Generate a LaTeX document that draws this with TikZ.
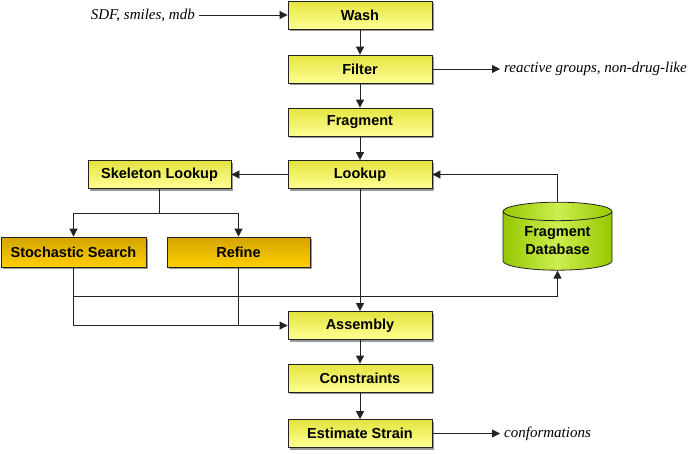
\documentclass[tikz,border=0pt]{standalone}
\usepackage{fontspec}
\setmainfont{Liberation Sans}
\newfontfamily\notefont{Liberation Serif}
\usetikzlibrary{arrows.meta,shapes.geometric,shadows}
\definecolor{boxlight}{RGB}{255,255,150}
\definecolor{boxdark}{RGB}{228,228,64}
\definecolor{goldlight}{RGB}{255,206,0}
\definecolor{golddark}{RGB}{212,164,0}
\definecolor{dbedge}{RGB}{150,200,0}
\definecolor{dbmid}{RGB}{205,238,80}
\definecolor{linec}{RGB}{35,35,35}
\tikzset{
  box/.style={draw=linec, line width=0.8pt, top color=boxdark, bottom color=boxlight,
    minimum width=144pt, minimum height=28pt, inner sep=0pt,
    font=\fontsize{14.5}{16}\selectfont\bfseries,
    drop shadow={shadow xshift=2pt, shadow yshift=-2pt, fill=black!40, opacity=1}},
  goldbox/.style={box, top color=golddark, bottom color=goldlight, minimum height=30pt},
  dbase/.style={cylinder, shape border rotate=90, aspect=0.28, draw=linec, line width=0.8pt,
    left color=dbedge, right color=dbedge, middle color=dbmid,
    minimum width=109pt, minimum height=68pt, inner sep=0pt, align=center,
    font=\fontsize{14.5}{18}\selectfont\bfseries},
  note/.style={font=\fontsize{15}{17}\selectfont\notefont\itshape, inner sep=4pt},
  arr/.style={-{Triangle[width=8pt,length=8pt]}, draw=linec, line width=0.8pt},
  conn/.style={draw=linec, line width=0.8pt}
}
\begin{document}
\begin{tikzpicture}[x=1pt,y=-1pt]
  \useasboundingbox (0,0) rectangle (700,453);
  % main column
  \node[box] (wash)     at (360,15)    {Wash};
  \node[box] (filter)   at (360,69)    {Filter};
  \node[box] (fragment) at (360,122)   {Fragment};
  \node[box] (lookup)   at (360,174.5) {Lookup};
  \node[box] (assembly) at (360,325.5) {Assembly};
  \node[box] (constr)   at (360,378)   {Constraints};
  \node[box] (strain)   at (360,433.5) {Estimate Strain};
  % side boxes
  \node[box, minimum width=143pt] (skel) at (159.5,174.5) {Skeleton Lookup};
  \node[goldbox, minimum width=145pt] (stoch)  at (73.5,252)  {Stochastic Search};
  \node[goldbox, minimum width=143pt] (refine) at (238.5,252) {Refine};
  \node[dbase] (fragdb) at (557.5,241) {Fragment\\Database};
  % notes
  \node[note, anchor=east] (input)  at (199,15)  {SDF, smiles, mdb};
  \node[note, anchor=west] (reject) at (500,69)  {reactive groups, non-drug-like};
  \node[note, anchor=west] (confs)  at (500,433.5) {conformations};
  \coordinate (split) at (159.5,213);
  \coordinate (merge) at (73.5,296);

  \draw[arr] (input) -- (wash);
  \draw[arr] (wash) -- (filter);
  \draw[arr] (filter) -- (fragment);
  \draw[arr] (fragment) -- (lookup);
  \draw[arr] (filter) -- (reject);
  \draw[arr] (lookup) -- (skel);
  \draw[arr] (fragdb.north) |- (lookup);
  \draw[conn] (skel) -- (split);
  \draw[arr] (split) -| (stoch);
  \draw[arr] (split) -| (refine);
  \draw[arr] (lookup) -- (assembly);
  \draw[arr] (merge) -| (fragdb.south);
  \draw[arr] (stoch) |- (assembly);
  \draw[conn] (refine) -- (refine |- assembly);
  \draw[arr] (assembly) -- (constr);
  \draw[arr] (constr) -- (strain);
  \draw[arr] (strain) -- (confs);
\end{tikzpicture}
\end{document}
